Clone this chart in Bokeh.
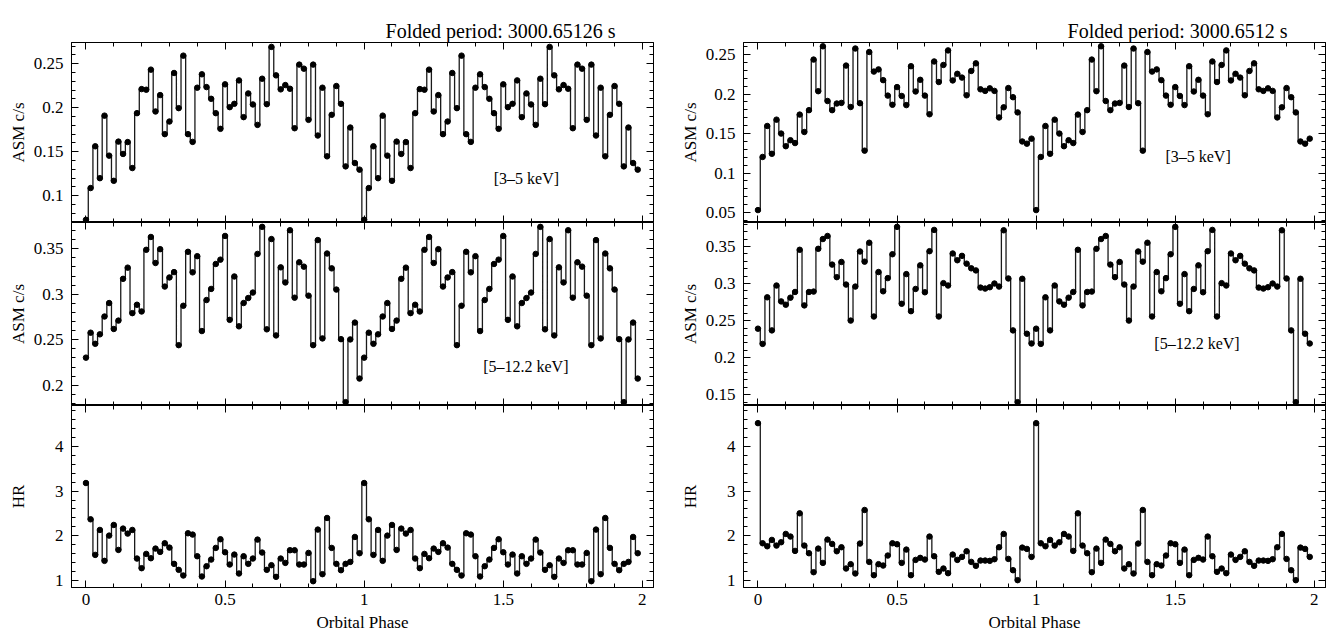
from bokeh.plotting import figure
from bokeh.models import Range1d, LinearAxis, SingleIntervalTicker, CustomJSTickFormatter, Label, Title
from bokeh.layouts import row, column
from bokeh.embed import file_html
from bokeh.resources import INLINE

FONT = "Liberation Serif"

# ---------------- data ----------------
n_bins = 60
phase_one = [i / n_bins for i in range(n_bins)]
phase = phase_one + [1 + p for p in phase_one]   # folded light curve shown over two cycles

titles = ["Folded period: 3000.65126 s", "Folded period: 3000.6512 s"]
band_labels = ["[3\u20135 keV]", "[5\u201312.2 keV]"]
y_labels = ["ASM c/s", "ASM c/s", "HR"]

left_soft = [0.0727, 0.1088, 0.1562, 0.120, 0.191, 0.1456, 0.117, 0.1615, 0.1475, 0.161,
             0.1315, 0.1938, 0.2211, 0.2204, 0.2432, 0.1957, 0.2143, 0.170, 0.1843, 0.2394,
             0.1995, 0.2591, 0.170, 0.1612, 0.2227, 0.2379, 0.2234, 0.2101, 0.1938, 0.176,
             0.2265, 0.2006, 0.2044, 0.231, 0.1893, 0.2162, 0.2037, 0.1805, 0.2329, 0.204,
             0.269, 0.2367, 0.2208, 0.2257, 0.2215, 0.1767, 0.2489, 0.2443, 0.1862, 0.2489,
             0.1684, 0.2227, 0.1448, 0.1919, 0.2246, 0.2044, 0.1334, 0.1775, 0.1372, 0.1297]

left_hard = [0.2304, 0.2578, 0.2456, 0.256, 0.2756, 0.2904, 0.2619, 0.2711, 0.317, 0.3293,
             0.2793, 0.2885, 0.2811, 0.3489, 0.363, 0.3344, 0.3496, 0.3085, 0.3185, 0.3244,
             0.2441, 0.2874, 0.3467, 0.3241, 0.3419, 0.2596, 0.2937, 0.3059, 0.3333, 0.3381,
             0.3641, 0.2719, 0.3196, 0.2648, 0.2904, 0.2959, 0.3019, 0.3444, 0.3741, 0.2615,
             0.3607, 0.2548, 0.3296, 0.313, 0.3704, 0.2963, 0.3352, 0.3304, 0.2985, 0.2441,
             0.3596, 0.2515, 0.3448, 0.3285, 0.3052, 0.2507, 0.1815, 0.2504, 0.2689, 0.2074]

left_hr = [3.181, 2.369, 1.573, 2.131, 1.439, 2.004, 2.243, 1.684, 2.161, 2.049,
           2.131, 1.491, 1.275, 1.595, 1.498, 1.714, 1.640, 1.833, 1.736, 1.372,
           1.238, 1.111, 2.057, 2.027, 1.543, 1.089, 1.319, 1.468, 1.729, 1.923,
           1.632, 1.357, 1.580, 1.156, 1.543, 1.372, 1.491, 1.915, 1.625, 1.238,
           1.342, 1.081, 1.491, 1.394, 1.677, 1.677, 1.357, 1.357, 1.617, 0.984,
           2.139, 1.141, 2.399, 1.729, 1.372, 1.230, 1.372, 1.416, 1.974, 1.610]

right_soft = [0.0532, 0.1204, 0.1596, 0.1244, 0.1676, 0.15, 0.134, 0.1416, 0.138, 0.174,
              0.152, 0.1796, 0.2436, 0.2036, 0.2604, 0.1912, 0.1796, 0.188, 0.1888, 0.236,
              0.1836, 0.2576, 0.1884, 0.1284, 0.2532, 0.2284, 0.2312, 0.2176, 0.198, 0.1864,
              0.2088, 0.1976, 0.186, 0.2352, 0.2032, 0.218, 0.198, 0.1744, 0.2412, 0.2152,
              0.2368, 0.2552, 0.2172, 0.2256, 0.2208, 0.1984, 0.2292, 0.2388, 0.206, 0.204,
              0.2072, 0.204, 0.1704, 0.1832, 0.2076, 0.196, 0.1768, 0.14, 0.1372, 0.1436]

right_hard = [0.2391, 0.2186, 0.2814, 0.2368, 0.2973, 0.2759, 0.2714, 0.2809, 0.2886, 0.3455,
              0.2705, 0.2886, 0.2891, 0.3468, 0.36, 0.3641, 0.3255, 0.3086, 0.3291, 0.2986,
              0.25, 0.2959, 0.3432, 0.3295, 0.355, 0.2555, 0.3155, 0.2895, 0.3073, 0.3395,
              0.3764, 0.2727, 0.3127, 0.2627, 0.2927, 0.3245, 0.2882, 0.3436, 0.3723, 0.2555,
              0.3005, 0.2973, 0.3405, 0.3314, 0.3373, 0.3268, 0.3205, 0.3177, 0.2945, 0.2932,
              0.295, 0.3, 0.2959, 0.3718, 0.3068, 0.2368, 0.14, 0.3064, 0.2323, 0.2191]

right_hr = [4.521, 1.833, 1.766, 1.908, 1.781, 1.856, 2.042, 1.983, 1.662, 2.503,
            1.781, 1.610, 1.185, 1.714, 1.394, 1.915, 1.818, 1.654, 1.744, 1.268,
            1.365, 1.156, 1.826, 2.578, 1.416, 1.118, 1.365, 1.334, 1.558, 1.833,
            1.811, 1.394, 1.692, 1.118, 1.461, 1.506, 1.468, 1.983, 1.543, 1.193,
            1.268, 1.163, 1.580, 1.461, 1.528, 1.654, 1.416, 1.327, 1.446, 1.446,
            1.439, 1.476, 1.744, 2.042, 1.483, 1.230, 1.007, 1.736, 1.706, 1.528]

columns_data = [[left_soft, left_hard, left_hr], [right_soft, right_hard, right_hr]]
# the right soft-band panel starts a little lower than the 0.05 tick so that label stays whole
y_ranges = [[(0.0697, 0.274), (0.1778, 0.3789), (0.843, 4.916)],
            [(0.0375, 0.2652), (0.1355, 0.3823), (0.843, 4.916)]]
y_intervals = [0.05, 0.05, 1]
band_pos = [[(1.583, 0.1194), (1.581, 0.2207)], [(1.582, 0.1204), (1.578, 0.219)]]
x_range = (-0.052, 2.04)

# ---------------- layout (pixels) ----------------
FRAME_W = 582
BORDER_L = 71
BORDER_R = [19, 4]
BORDER_T = 42
FRAME_H = [180, 183, 182]

fmt_code = "return String(parseFloat(tick.toFixed(4)));"
TICK_PX = "17px"


def style_axis(ax):
    ax.axis_line_color = "black"
    ax.axis_line_width = 1
    ax.major_tick_in = 7
    ax.major_tick_out = 0
    ax.minor_tick_in = 4
    ax.minor_tick_out = 0
    ax.major_tick_line_color = "black"
    ax.minor_tick_line_color = "black"
    ax.major_label_text_font = FONT
    ax.major_label_text_font_size = TICK_PX
    ax.major_label_text_color = "black"
    ax.axis_label_text_font = FONT
    ax.axis_label_text_font_size = "17px"
    ax.axis_label_text_font_style = "normal"
    ax.axis_label_text_color = "black"
    return ax


def hidden_axis(interval):
    ax = LinearAxis(ticker=SingleIntervalTicker(interval=interval, num_minor_ticks=5),
                    formatter=CustomJSTickFormatter(code="return '';"))
    style_axis(ax)
    ax.major_label_text_font_size = "0px"
    ax.major_label_standoff = 0
    return ax


def spacer(size_px, standoff):
    # blank title used only as padding inside a side panel
    return Title(text=" ", text_font_size=f"{size_px}px", standoff=standoff, text_alpha=0)


def make_panel(c, r):
    ys = columns_data[c][r] * 2
    p = figure(frame_width=FRAME_W, frame_height=FRAME_H[r],
               x_range=Range1d(*x_range), y_range=Range1d(*y_ranges[c][r]),
               x_axis_type=None, y_axis_type=None,
               toolbar_location=None, output_backend="svg",
               min_border_left=BORDER_L, min_border_right=BORDER_R[c],
               min_border_top=BORDER_T if r == 0 else 0, min_border_bottom=0)
    p.outline_line_color = "black"
    p.outline_line_width = 1
    p.background_fill_color = "white"
    p.border_fill_color = "white"

    yl = LinearAxis(ticker=SingleIntervalTicker(interval=y_intervals[r], num_minor_ticks=5),
                    formatter=CustomJSTickFormatter(code=fmt_code), axis_label=y_labels[r])
    style_axis(yl)
    yl.major_label_standoff = 8
    yl.axis_label_standoff = 24 if r == 2 else 3
    p.add_layout(yl, "left")
    p.add_layout(hidden_axis(y_intervals[r]), "right")
    p.add_layout(hidden_axis(0.5), "above")
    if r == 2:
        xb = LinearAxis(ticker=SingleIntervalTicker(interval=0.5, num_minor_ticks=5),
                        formatter=CustomJSTickFormatter(code=fmt_code), axis_label="Orbital Phase")
        style_axis(xb)
        xb.major_label_standoff = 6
        xb.axis_label_standoff = 5
        p.add_layout(xb, "below")
    else:
        p.add_layout(hidden_axis(0.5), "below")

    p.step(phase, ys, mode="center", line_color="#1a1a1a", line_width=1.3)
    p.scatter(phase, ys, size=5.5, color="black")

    if r < 2:
        bx, by = band_pos[c][r]
        p.add_layout(Label(x=bx, y=by, text=band_labels[r], text_font=FONT,
                           text_font_size="16px", text_align="center",
                           text_baseline="middle", text_color="black"))
    if r == 0:
        p.add_layout(spacer(12, 4), "above")
        heading = Title(text=titles[c], align="right", offset=38, text_font=FONT,
                        text_font_size="20px", text_font_style="normal",
                        text_color="black", standoff=2)
        p.add_layout(heading, "above")
    return p


cols = []
for c in range(2):
    cols.append(column(*[make_panel(c, r) for r in range(3)], spacing=0))
layout = row(*cols, spacing=0)

open("out.html", "w").write(file_html(layout, INLINE))
